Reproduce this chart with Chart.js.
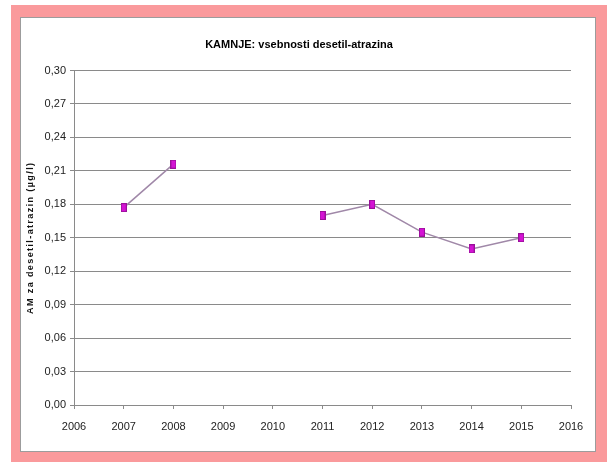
<!DOCTYPE html>
<html>
<head>
<meta charset="utf-8">
<title>KAMNJE: vsebnosti desetil-atrazina</title>
<script src="https://cdn.jsdelivr.net/npm/chart.js@4"></script>
<style>
  html, body { margin: 0; padding: 0; background: #fff; }
  #page { position: relative; width: 611px; height: 462px; overflow: hidden; }
  /* pink frame with the white panel inside */
  .frame { position: absolute; left: 11px; top: 5px; width: 596px; height: 470px; background: #fa9a9c; }
  .panel { position: absolute; left: 20px; top: 17px; width: 574px; height: 433px;
           background: #fff; border: 1px solid #9c9c9c; }
  .chart-box { position: absolute; left: 0; top: 0; width: 611px; height: 462px; }
</style>
</head>
<body>
<div id="page">
  <div class="frame"></div>
  <div class="panel"></div>
  <div class="chart-box"><canvas id="chart"></canvas></div>
</div>
<script>
// measured yearly means (null = no sampling that year)
const years = [2006, 2007, 2008, 2009, 2010, 2011, 2012, 2013, 2014, 2015, 2016];
const values = [null, 0.177, 0.216, null, null, 0.170, 0.180, 0.155, 0.140, 0.150, null];
const yTicks = [0, 0.03, 0.06, 0.09, 0.12, 0.15, 0.18, 0.21, 0.24, 0.27, 0.30];
const yTitle = 'AM za desetil-atrazin (µg/l)';

const sans = "'Liberation Sans', Arial, sans-serif";

// small magenta rectangle used as the point marker
function makeMarker() {
    const c = document.createElement('canvas');
    c.width = 6;
    c.height = 9;
    const g = c.getContext('2d');
    g.fillStyle = '#9a109a';
    g.fillRect(0, 0, 6, 9);
    g.fillStyle = '#d414d4';
    g.fillRect(1, 1, 4, 7);
    return c;
}

// vertical axis title, drawn with wide letter spacing
const yTitlePlugin = {
    id: 'yTitle',
    afterDraw(chart) {
        const { ctx, chartArea } = chart;
        ctx.save();
        ctx.translate(31, (chartArea.top + chartArea.bottom) / 2);
        ctx.rotate(-Math.PI / 2);
        ctx.font = 'bold 9px ' + sans;
        ctx.letterSpacing = '1.4px';
        ctx.fillStyle = '#111';
        ctx.textAlign = 'center';
        ctx.textBaseline = 'middle';
        ctx.fillText(yTitle, 0, 0);
        ctx.restore();
    }
};

const ctx = document.getElementById('chart').getContext('2d');
new Chart(ctx, {
    type: 'line',
    data: {
        datasets: [{
            label: 'AM',
            data: years.map((y, i) => ({ x: y, y: values[i] })),
            borderColor: '#a088a8',
            borderWidth: 1.5,
            pointStyle: makeMarker(),
            spanGaps: false,
            tension: 0
        }]
    },
    plugins: [yTitlePlugin],
    options: {
        responsive: true,
        maintainAspectRatio: false,
        animation: false,
        layout: {
            padding: { left: 27, right: 40, top: 0, bottom: 17 }
        },
        plugins: {
            legend: { display: false },
            tooltip: { enabled: false },
            title: {
                display: true,
                text: 'KAMNJE: vsebnosti desetil-atrazina',
                color: '#000',
                font: { family: sans, size: 11, weight: 'bold', lineHeight: 1.2 },
                padding: { top: 38.5, bottom: 18.8 }
            }
        },
        scales: {
            x: {
                type: 'linear',
                min: 2006,
                max: 2016,
                afterFit: (scale) => { scale.height = 40; },
                afterBuildTicks: (scale) => { scale.ticks = years.map(v => ({ value: v })); },
                ticks: {
                    color: '#222',
                    padding: 11,
                    maxRotation: 0,
                    font: { family: sans, size: 11 },
                    callback: (v) => String(v)
                },
                grid: {
                    drawOnChartArea: false,
                    drawTicks: true,
                    tickLength: 4,
                    color: '#8a8a8a'
                },
                border: { color: '#8a8a8a', width: 1 }
            },
            y: {
                min: 0,
                max: 0.30,
                afterFit: (scale) => { scale.width = 47; },
                afterBuildTicks: (scale) => { scale.ticks = yTicks.map(v => ({ value: v })); },
                ticks: {
                    color: '#222',
                    padding: 4,
                    font: { family: sans, size: 11 },
                    callback: (v) => v.toFixed(2).replace('.', ',')
                },
                grid: {
                    color: '#8a8a8a',
                    tickLength: 4
                },
                border: { color: '#8a8a8a', width: 1 }
            }
        }
    }
});
</script>
</body>
</html>
